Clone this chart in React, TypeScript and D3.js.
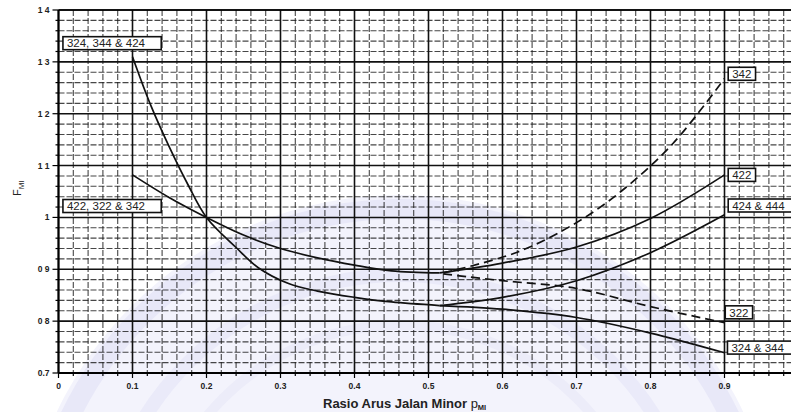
import React from "react";
import * as d3 from "d3";

// ---------- data ----------
const xTicks = [0, 0.1, 0.2, 0.3, 0.4, 0.5, 0.6, 0.7, 0.8, 0.9];
const xTickLabels = ["0", "0.1", "0.2", "0.3", "0.4", "0.5", "0.6", "0.7", "0.8", "0.9"];
const yTicks = [0.7, 0.8, 0.9, 1.0, 1.1, 1.2, 1.3, 1.4];
const yTickLabels = ["0.7", "0 8", "0 9", "1", "1 1", "1 2", "1 3", "1 4"];

// steep branch (324, 344 & 424) until the split point
const steepBranch: [number, number][] = [
  [0.1, 1.31], [0.125, 1.215], [0.15, 1.135], [0.175, 1.063], [0.2, 1.0],
  [0.24, 0.942], [0.27, 0.903], [0.31, 0.873], [0.35, 0.858], [0.4, 0.846],
  [0.45, 0.837], [0.515, 0.83],
];
// shallow branch (422, 322 & 342) until the split point
const shallowBranch: [number, number][] = [
  [0.1, 1.082], [0.15, 1.038], [0.2, 1.0], [0.25, 0.966], [0.3, 0.94],
  [0.35, 0.922], [0.4, 0.908], [0.45, 0.897], [0.515, 0.893],
];
const curve422: [number, number][] = [
  [0.515, 0.893], [0.6, 0.912], [0.7, 0.943], [0.8, 0.998], [0.9, 1.082],
];
const curve342: [number, number][] = [
  [0.52, 0.893], [0.62, 0.933], [0.7, 0.99], [0.76, 1.05], [0.83, 1.142], [0.9, 1.268],
];
const curve322: [number, number][] = [
  [0.52, 0.891], [0.6, 0.878], [0.7, 0.863], [0.8, 0.828], [0.9, 0.797],
];
const curve424_444: [number, number][] = [
  [0.515, 0.83], [0.6, 0.846], [0.7, 0.878], [0.8, 0.932], [0.9, 1.005],
];
const curve324_344: [number, number][] = [
  [0.515, 0.83], [0.6, 0.823], [0.7, 0.807], [0.8, 0.777], [0.9, 0.739],
];

const seriesList = [
  { name: "steep", pts: steepBranch, dashed: false },
  { name: "shallow", pts: shallowBranch, dashed: false },
  { name: "422", pts: curve422, dashed: false },
  { name: "342", pts: curve342, dashed: true },
  { name: "322", pts: curve322, dashed: true },
  { name: "424 & 444", pts: curve424_444, dashed: false },
  { name: "324 & 344", pts: curve324_344, dashed: false },
];

// label boxes: text, anchor in data units (left x, centre y)
const labelTexts = ["324, 344 & 424", "422, 322 & 342", "342", "422", "424 & 444", "322", "324 & 344"];
const labelX = [0.006, 0.006, 0.905, 0.905, 0.905, 0.901, 0.904];
const labelY = [1.336, 1.022, 1.277, 1.082, 1.023, 0.817, 0.749];

// ---------- layout ----------
const W = 791;
const H = 412;
const x = d3.scaleLinear().domain([0, 1]).range([58.5, 798.5]);
const y = d3.scaleLinear().domain([0.7, 1.4]).range([373, 10]);
const FONT = "'Liberation Sans', Arial, Helvetica, sans-serif";

export default function App() {
  const line = d3
    .line<[number, number]>()
    .x((d) => x(d[0]))
    .y((d) => y(d[1]))
    .curve(d3.curveCatmullRom.alpha(0.5));

  const minorX = d3.range(0, 1.0001, 0.02).map((v) => +v.toFixed(2));
  const minorY = d3.range(0.7, 1.4001, 0.02).map((v) => +v.toFixed(2));
  const isMajor = (v: number) => Math.abs(v * 10 - Math.round(v * 10)) < 1e-6;

  const [x0, x1] = x.range();
  const yB = y(0.7);
  const yT = y(1.4);

  return (
    <svg width={W} height={H} style={{ position: "absolute", left: 0, top: 0, background: "#fff" }}>
      {/* watermark */}
      <g>
        <circle cx={400} cy={575} r={380} fill="#f3f3fc" />
        <circle cx={400} cy={575} r={366} fill="none" stroke="#e8e8f8" strokeWidth={20} />
        <circle cx={400} cy={575} r={300} fill="none" stroke="#eaeaf9" strokeWidth={14} />
        <circle cx={400} cy={575} r={250} fill="none" stroke="#ececf9" strokeWidth={10} />
      </g>

      {/* minor grid */}
      <g>
        {minorX.filter((v) => !isMajor(v)).map((v) => (
          <line key={"vx" + v} x1={x(v)} x2={x(v)} y1={yT} y2={yB}
            stroke="#1a1a1a" strokeWidth={1.1} strokeDasharray="6,2" opacity={0.8} />
        ))}
        {minorY.filter((v) => !isMajor(v)).map((v) => (
          <line key={"hy" + v} x1={x0} x2={x1} y1={y(v)} y2={y(v)}
            stroke="#1a1a1a" strokeWidth={1.1} strokeDasharray="6,2" opacity={0.8} />
        ))}
      </g>
      {/* major grid */}
      <g>
        {minorX.filter((v) => isMajor(v)).map((v) => (
          <line key={"Vx" + v} x1={x(v)} x2={x(v)} y1={yT} y2={yB} stroke="#111" strokeWidth={1.6} />
        ))}
        {minorY.filter((v) => isMajor(v)).map((v) => (
          <line key={"Hy" + v} x1={x0} x2={x1} y1={y(v)} y2={y(v)} stroke="#111" strokeWidth={1.6} />
        ))}
      </g>

      {/* axes frame + ticks */}
      <line x1={x0} x2={x0} y1={yT} y2={yB} stroke="#000" strokeWidth={2} />
      <line x1={x0} x2={x1} y1={yB} y2={yB} stroke="#000" strokeWidth={2} />
      <line x1={x0} x2={x1} y1={yT} y2={yT} stroke="#000" strokeWidth={1.6} />
      {minorY.map((v) => (
        <line key={"ty" + v} x1={x0 - (isMajor(v) ? 6 : 3)} x2={x0} y1={y(v)} y2={y(v)} stroke="#000" strokeWidth={1.2} />
      ))}
      {minorX.map((v) => (
        <line key={"tx" + v} x1={x(v)} x2={x(v)} y1={yB} y2={yB + (isMajor(v) ? 5 : 3)} stroke="#000" strokeWidth={1.2} />
      ))}

      {/* tick labels */}
      {yTicks.map((v, i) => (
        <text key={"yl" + v} x={x0 - 9} y={y(v) + 3} textAnchor="end" fontFamily={FONT}
          fontWeight="bold" fontSize={8.5} fill="#222">{yTickLabels[i]}</text>
      ))}
      {xTicks.map((v, i) => (
        <text key={"xl" + v} x={x(v)} y={yB + 16} textAnchor="middle" fontFamily={FONT}
          fontWeight="bold" fontSize={8.5} fill="#222">{xTickLabels[i]}</text>
      ))}

      {/* curves */}
      {seriesList.map((s) => (
        <path key={s.name} d={line(s.pts) || ""} fill="none" stroke="#111"
          strokeWidth={1.7} strokeDasharray={s.dashed ? "9,5" : undefined} />
      ))}

      {/* label boxes */}
      {labelTexts.map((t, i) => {
        const fs = 11.5;
        const w = t.length * 6.45 + 8;
        const lx = x(labelX[i]);
        const cy = y(labelY[i]);
        return (
          <g key={"lb" + i}>
            <rect x={lx} y={cy - 6.5} width={w} height={13} fill="#fff" stroke="#111" strokeWidth={1.6} />
            <text x={lx + 4} y={cy + 4.2} fontFamily={FONT} fontSize={fs} fill="#222">{t}</text>
          </g>
        );
      })}

      {/* axis titles */}
      <text x={323} y={408} fontFamily={FONT} fontWeight="bold" fontSize={13} fill="#222">
        Rasio Arus Jalan Minor{" "}
        <tspan fontWeight="normal" fontSize={13}>p</tspan>
        <tspan fontSize={7.5} dy={2}>MI</tspan>
      </text>
      <text transform="translate(21,196) rotate(-90)" fontFamily={FONT} fontSize={11} fill="#222">
        F<tspan fontSize={8} dy={3}>MI</tspan>
      </text>
    </svg>
  );
}
